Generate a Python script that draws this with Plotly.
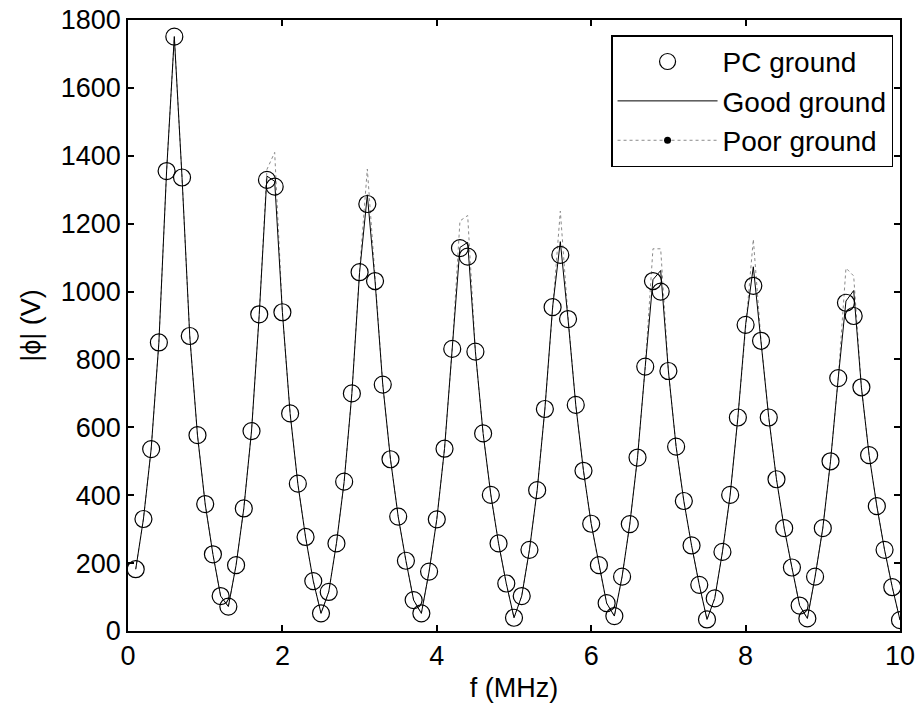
import numpy as np
import plotly.graph_objects as go

# Frequency samples (MHz)
freq_mhz = np.round(np.linspace(0.1, 10.0, 100), 1)

# |phi| (V) for the PC-ground case
pc_ground = [
    182, 330, 536, 850, 1355, 1751, 1336, 869, 577, 374,
    226, 103, 72, 194, 361, 589, 933, 1329, 1309, 939,
    641, 434, 277, 147, 52, 115, 258, 440, 700, 1057,
    1258, 1031, 726, 506, 337, 207, 91, 52, 175, 329,
    537, 831, 1128, 1103, 823, 582, 401, 258, 140, 39,
    103, 239, 415, 654, 954, 1108, 919, 666, 472, 316,
    194, 82, 44, 160, 315, 511, 779, 1031, 1000, 766,
    543, 383, 252, 136, 34, 96, 233, 401, 629, 902,
    1017, 855, 629, 447, 303, 187, 75, 37, 160, 303,
    500, 745, 967, 928, 718, 518, 368, 239, 129, 32,
]

# |phi| (V) for the good-ground case
good_ground = [
    182, 330, 536, 850, 1355, 1751, 1336, 869, 577, 374,
    226, 103, 72, 194, 361, 589, 933, 1340, 1325, 939,
    641, 434, 277, 147, 52, 115, 258, 440, 700, 1057,
    1285, 1031, 726, 506, 337, 207, 91, 52, 175, 329,
    537, 831, 1130, 1145, 823, 582, 401, 258, 140, 39,
    103, 239, 415, 654, 954, 1147, 919, 666, 472, 316,
    194, 82, 44, 160, 315, 511, 779, 1035, 1062, 766,
    543, 383, 252, 136, 34, 96, 233, 401, 629, 902,
    1073, 855, 629, 447, 303, 187, 75, 37, 160, 303,
    500, 745, 972, 1003, 718, 518, 368, 239, 129, 32,
]

# |phi| (V) for the poor-ground case
poor_ground = [
    182, 330, 536, 850, 1355, 1751, 1336, 869, 577, 374,
    226, 103, 72, 194, 361, 589, 933, 1360, 1410, 939,
    641, 434, 277, 147, 52, 115, 258, 440, 700, 1065,
    1361, 1031, 726, 506, 337, 207, 91, 52, 175, 329,
    537, 831, 1208, 1224, 823, 582, 401, 258, 140, 39,
    103, 239, 415, 654, 960, 1237, 925, 666, 472, 316,
    194, 82, 44, 160, 315, 511, 779, 1126, 1126, 766,
    543, 383, 252, 136, 34, 96, 233, 401, 629, 902,
    1154, 855, 629, 447, 303, 187, 75, 37, 160, 303,
    500, 745, 1069, 1046, 718, 518, 368, 239, 129, 32,
]

x_ticks = [0, 2, 4, 6, 8, 10]
y_ticks = [0, 200, 400, 600, 800, 1000, 1200, 1400, 1600, 1800]

FONT = "Liberation Sans, Arial, sans-serif"
POOR_COLOR = "#8a8a8a"

fig = go.Figure()

# poor-ground curve drawn first so the good-ground line sits on top
fig.add_trace(go.Scatter(
    x=freq_mhz, y=poor_ground, name="Poor ground", mode="lines",
    line=dict(color=POOR_COLOR, width=1, dash="dot"),
    showlegend=False,
))
fig.add_trace(go.Scatter(
    x=freq_mhz, y=pc_ground, name="PC ground", mode="markers",
    marker=dict(symbol="circle-open", size=17, color="black",
                line=dict(width=1.2, color="black")),
    legendrank=1,
))
fig.add_trace(go.Scatter(
    x=freq_mhz, y=good_ground, name="Good ground", mode="lines",
    line=dict(color="black", width=1),
    legendrank=2,
))
# legend entry for the poor-ground curve (line with a dot)
fig.add_trace(go.Scatter(
    x=[None], y=[None], name="Poor ground", mode="lines+markers",
    line=dict(color=POOR_COLOR, width=1, dash="dot"),
    marker=dict(symbol="circle", size=7, color="black"),
    legendrank=3,
))

axis_common = dict(
    showline=True, linecolor="black", linewidth=1.5, mirror="ticks",
    ticks="inside", ticklen=6, tickwidth=1.5, tickcolor="black",
    showgrid=False, zeroline=False,
    tickfont=dict(family=FONT, size=27, color="black"),
)

fig.update_xaxes(
    range=[0, 10], tickvals=x_ticks, ticktext=[str(v) for v in x_ticks],
    title=dict(text="f (MHz)", font=dict(family=FONT, size=27, color="black"),
               standoff=8),
    **axis_common,
)
fig.update_yaxes(
    range=[0, 1800], tickvals=y_ticks, ticktext=[str(v) for v in y_ticks],
    title=dict(text="|ϕ| (V)", font=dict(family=FONT, size=27, color="black"),
               standoff=12),
    **axis_common,
)

fig.update_layout(
    width=920, height=716,
    margin=dict(l=128, r=20, t=20, b=85, autoexpand=False),
    paper_bgcolor="white", plot_bgcolor="white",
    font=dict(family=FONT, size=27, color="black"),
    legend=dict(
        x=0.991, y=0.975, xanchor="right", yanchor="top",
        bgcolor="white", bordercolor="black", borderwidth=1.5,
        font=dict(family=FONT, size=28, color="black"),
        itemwidth=100,
    ),
    showlegend=True,
)

fig.write_html("out.html")
